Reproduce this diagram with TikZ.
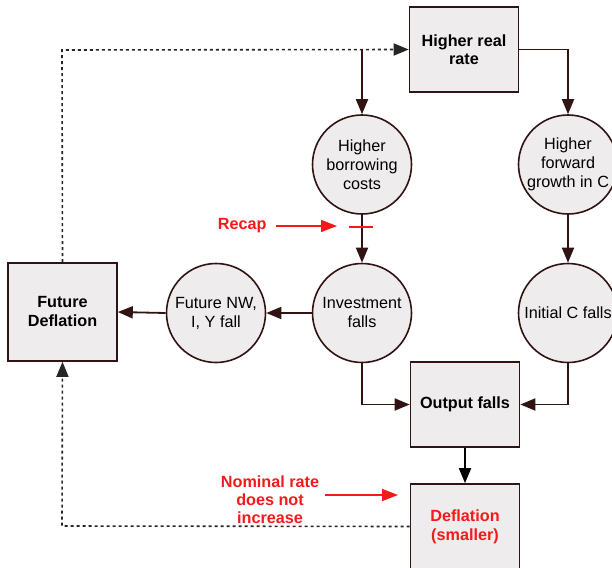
\documentclass[tikz,border=0pt]{standalone}
\usepackage{fontspec}
\setmainfont{Liberation Sans}
\usetikzlibrary{arrows.meta}
\definecolor{edge}{HTML}{301414}
\definecolor{fillgray}{HTML}{EEECEC}
\definecolor{alert}{HTML}{F51A1A}
\tikzset{
  box/.style={draw=edge, line width=1.6pt, fill=fillgray, minimum width=#1,
    font=\fontsize{16.2}{19}\selectfont\bfseries, align=center, inner sep=0pt},
  box/.default=109pt,
  bubble/.style={circle, draw=edge, line width=1.6pt, fill=fillgray, minimum size=99pt,
    font=\fontsize{16.2}{19}\selectfont, align=center, inner sep=0pt},
  flow/.style={draw=edge, line width=1.8pt, -{Triangle[length=15pt,width=12pt]}},
  loop/.style={draw=black!85, line width=1.6pt, dash pattern=on 3pt off 3pt,
    -{Triangle[length=15pt,width=12pt]}},
  note/.style={text=alert, font=\fontsize{16.2}{18}\selectfont\bfseries, align=center},
  pointer/.style={draw=alert, line width=1.6pt, -{Triangle[length=16pt,width=12pt]}},
}
\begin{document}
\begin{tikzpicture}[x=1pt, y=-1pt]
  \useasboundingbox (0,0) rectangle (612,567);
  \clip (0,0) rectangle (612,567);

  % boxes
  \node[box, minimum height=85pt, font=\fontsize{16.2}{17.5}\selectfont\bfseries]
    (real) at (464,49.5) {Higher real\\rate};
  \node[box, minimum height=98pt] (futdef) at (62.5,312) {Future\\Deflation};
  \node[box, minimum height=85pt] (output) at (465,404.5) {Output falls};
  \node[box, minimum height=85pt, text=alert] (defl) at (465,526.5) {Deflation\\(smaller)};

  % circles
  \node[bubble] (borrow) at (362,164.5) {Higher\\borrowing\\costs};
  \node[bubble] (forward) at (568,164.5) {Higher\\forward\\growth in C};
  \node[bubble] (invest) at (362,313) {Investment\\falls};
  \node[bubble] (initc) at (568,313) {Initial C falls};
  \node[bubble] (futnw) at (216,313) {Future NW,\\I, Y fall};

  % feedback loops
  \coordinate (topleft) at (62,50);
  \coordinate (botleft) at (62,526);
  \draw[loop] (futdef.north) -- (topleft) -- (real.west);
  \draw[loop] (defl.west) -- (botleft) -- (futdef.south);

  % main flow
  \draw[flow] (real.west -| borrow.north) -- (borrow.north);
  \draw[flow] (real.east) -| (forward.north);
  \draw[flow] (borrow.south) -- (invest.north);
  \draw[flow] (forward.south) -- (initc.north);
  \draw[flow] (invest.west) -- (futnw.east);
  \draw[flow] (futnw.west) -- (futdef.east);
  \draw[flow] (invest.south) |- (output.west);
  \draw[flow] (initc.south) |- (output.east);
  \draw[flow, draw=black] (output.south) -- (defl.north);

  % annotations
  \coordinate (tickl) at (349,227);
  \coordinate (tickr) at (373,227);
  \draw[draw=alert, line width=1.6pt] (tickl) -- (tickr);
  \node[note, anchor=east] (recap) at (270,226) {Recap};
  \coordinate (recaptip) at (337,226);
  \draw[pointer] (recap.east) ++(6pt,0) -- (recaptip);

  \node[note] (nominal) at (270,500) {Nominal rate\\does not\\increase};
  \coordinate (nomstart) at (325,495);
  \coordinate (nomtip) at (398,495);
  \draw[pointer] (nomstart) -- (nomtip);
\end{tikzpicture}
\end{document}
